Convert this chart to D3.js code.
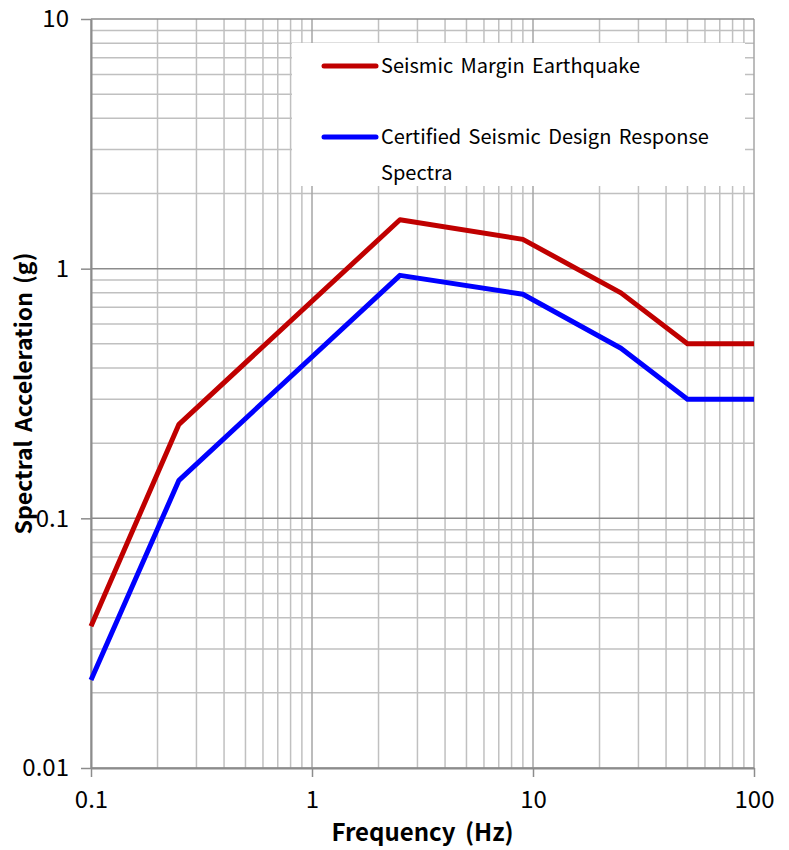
<!DOCTYPE html>
<html>
<head>
<meta charset="utf-8">
<script src="https://cdn.jsdelivr.net/npm/d3@7"></script>
<style>
  body { margin: 0; background: #fff; }
  text { font-family: "Noto Sans CJK KR", "Noto Sans", sans-serif; fill: #000; }
</style>
</head>
<body>
<svg id="chart" width="789" height="850"></svg>
<script>
/* ======================= DATA ======================= */
const frequencies   = [0.1, 0.25, 2.5, 9, 25, 50, 100];
const smeValues     = [0.037, 0.238, 1.57, 1.31, 0.80, 0.50, 0.50];
const csdrsValues   = [0.0225, 0.142, 0.94, 0.79, 0.48, 0.30, 0.30];
const seriesNames   = ["Seismic Margin Earthquake", "Certified Seismic Design Response Spectra"];
const seriesColors  = ["#c00000", "#0000ff"];
const xTickValues   = [0.1, 1, 10, 100];
const yTickValues   = [0.01, 0.1, 1, 10];

/* ====================== LAYOUT ====================== */
const margin = { top: 19, right: 35, bottom: 82, left: 91 };
const width  = 789 - margin.left - margin.right;
const height = 850 - margin.top - margin.bottom;

const svg = d3.select("#chart");
const plot = svg.append("g")
                .attr("transform", `translate(${margin.left},${margin.top})`);

const x = d3.scaleLog().domain([0.1, 100]).range([0, width]);
const y = d3.scaleLog().domain([0.01, 10]).range([height, 0]);

/* ====================== GRID ======================== */
function minorTicks(domain) {
    let out = [];
    for (let p = Math.log10(domain[0]); p < Math.log10(domain[1]); p++) {
        for (let m = 2; m <= 9; m++) out.push(m * Math.pow(10, p));
    }
    return out;
}

const gridView = plot.append("g").attr("id", "grid");

gridView.selectAll("line.xminor")
        .data(minorTicks(x.domain()))
        .join("line")
        .attr("class", "xminor")
        .attr("x1", d => x(d)).attr("x2", d => x(d))
        .attr("y1", 0).attr("y2", height)
        .attr("stroke", "#c0c0c0").attr("stroke-width", 1.5);

gridView.selectAll("line.yminor")
        .data(minorTicks(y.domain()))
        .join("line")
        .attr("class", "yminor")
        .attr("x1", 0).attr("x2", width)
        .attr("y1", d => y(d)).attr("y2", d => y(d))
        .attr("stroke", "#c0c0c0").attr("stroke-width", 1.5);

gridView.selectAll("line.xmajor")
        .data(xTickValues)
        .join("line")
        .attr("class", "xmajor")
        .attr("x1", d => x(d)).attr("x2", d => x(d))
        .attr("y1", 0).attr("y2", height)
        .attr("stroke", "#a6a6a6").attr("stroke-width", 1.5);

gridView.selectAll("line.ymajor")
        .data(yTickValues)
        .join("line")
        .attr("class", "ymajor")
        .attr("x1", 0).attr("x2", width)
        .attr("y1", d => y(d)).attr("y2", d => y(d))
        .attr("stroke", "#8c8c8c").attr("stroke-width", 1.5);

/* ====================== AXES ======================== */
const xAxis = d3.axisBottom(x)
                .tickValues(xTickValues)
                .tickFormat(d3.format("~g"))
                .tickSizeInner(9).tickSizeOuter(0).tickPadding(11);
const yAxis = d3.axisLeft(y)
                .tickValues(yTickValues)
                .tickFormat(d3.format("~g"))
                .tickSizeInner(10).tickSizeOuter(0).tickPadding(12);

const xAxisG = plot.append("g")
                   .attr("transform", `translate(0,${height})`)
                   .call(xAxis);
const yAxisG = plot.append("g").call(yAxis);

[xAxisG, yAxisG].forEach(g => {
    g.selectAll(".domain").attr("stroke", "#8c8c8c").attr("stroke-width", 2);
    g.selectAll(".tick line").attr("stroke", "#8c8c8c").attr("stroke-width", 1.5);
    g.selectAll(".tick text")
     .style("font-family", "'Noto Sans CJK KR', 'Noto Sans', sans-serif")
     .style("font-size", "24px").attr("fill", "#000");
});
xAxisG.selectAll(".tick text").attr("dy", "0.85em");

/* ====================== LINES ======================= */
const seriesData = [smeValues, csdrsValues].map((vals, i) => ({
    name: seriesNames[i],
    color: seriesColors[i],
    points: frequencies.map((f, j) => ({ f: f, v: vals[j] }))
}));

const line = d3.line().x(d => x(d.f)).y(d => y(d.v));

plot.append("g").attr("id", "series")
    .selectAll("path")
    .data(seriesData)
    .join("path")
    .attr("d", d => line(d.points))
    .attr("fill", "none")
    .attr("stroke", d => d.color)
    .attr("stroke-width", 5)
    .attr("stroke-linejoin", "round");

/* ===================== LEGEND ======================= */
const legend = svg.append("g").attr("id", "legend");
legend.append("rect")
      .attr("x", 292).attr("y", 43)
      .attr("width", 453).attr("height", 143)
      .attr("fill", "#fff");

const legendRows = [
    { lineY: 66, lines: [seriesNames[0]] },
    { lineY: 137, lines: ["Certified Seismic Design Response", "Spectra"] }
];
legendRows.forEach((row, i) => {
    legend.append("line")
          .attr("x1", 324).attr("x2", 376)
          .attr("y1", row.lineY).attr("y2", row.lineY)
          .attr("stroke", seriesColors[i]).attr("stroke-width", 5)
          .attr("stroke-linecap", "round");
    row.lines.forEach((t, k) => {
        legend.append("text")
              .attr("x", 381).attr("y", row.lineY + 7 + k * 36)
              .style("font-size", "20px")
              .style("word-spacing", "3px")
              .text(t);
    });
});

/* ===================== TITLES ======================= */
svg.append("text")
   .attr("x", margin.left + width / 2).attr("y", 841)
   .attr("text-anchor", "middle")
   .style("font-size", "24px").style("font-weight", "bold")
   .style("word-spacing", "4px")
   .text("Frequency (Hz)");

svg.append("text")
   .attr("transform", `translate(32,${margin.top + height / 2}) rotate(-90)`)
   .attr("text-anchor", "middle")
   .style("font-size", "23px").style("font-weight", "bold")
   .style("word-spacing", "3px")
   .text("Spectral Acceleration (g)");
</script>
</body>
</html>
